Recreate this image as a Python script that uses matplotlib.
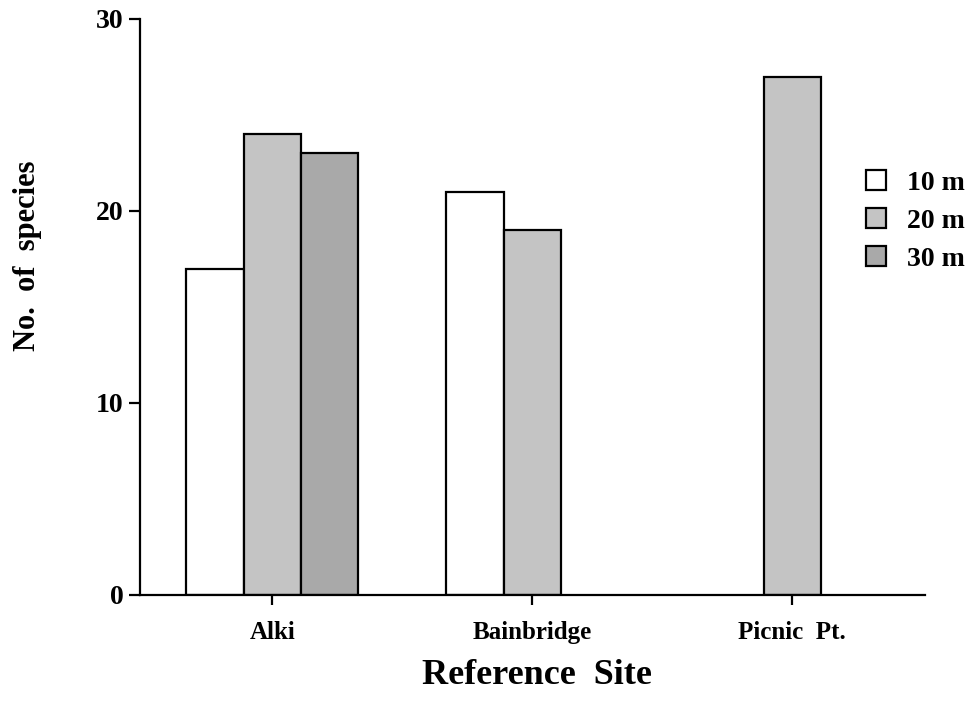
import matplotlib.pyplot as plt
import numpy as np

sites = ['Alki', 'Bainbridge', 'Picnic  Pt.']
depths = ['10 m', '20 m', '30 m']
d10 = [17, 21, np.nan]
d20 = [24, 19, 27]
d30 = [23, np.nan, np.nan]
yticks = [0, 10, 20, 30]

colores = ['white', '#c4c4c4', '#a9a9a9']

plt.rcParams['font.family'] = 'Liberation Serif'
plt.rcParams['font.weight'] = 'bold'

fig = plt.figure(figsize=(9.74, 7.13), dpi=100)
ax = fig.add_axes([140/974, 1-595/713, (925-140)/974, (595-19)/713])

index = np.arange(len(sites))
bw = 0.22
series = [d10, d20, d30]
for j, vals in enumerate(series):
    ax.bar(index + (j-1)*bw, vals, bw, color=colores[j], edgecolor='black',
           linewidth=1.6, label=depths[j], zorder=2)

ax.set_xlim(-0.508, 2.51)
ax.set_ylim(0, 30)
ax.set_yticks(yticks)
ax.set_xticks(index)
ax.set_xticklabels(sites)
ax.spines['top'].set_visible(False)
ax.spines['right'].set_visible(False)
ax.spines['left'].set_linewidth(1.6)
ax.spines['bottom'].set_linewidth(1.6)
ax.tick_params(axis='y', direction='out', length=8, width=1.6, pad=4, labelsize=20)
ax.tick_params(axis='x', direction='out', length=7, width=1.6, pad=12, labelsize=18)

fig.text(537/974, 1-676/713, 'Reference  Site', ha='center', va='center',
         fontsize=26, fontweight='bold')
fig.text(28/974, 1-256/713, 'No.  of  species', ha='center', va='center',
         rotation=90, fontsize=22, fontweight='bold')

leg = ax.legend(loc='upper left', bbox_to_anchor=(866/974, 1-170/713),
                bbox_transform=fig.transFigure, frameon=False, fontsize=20,
                handlelength=0.72, handleheight=0.72, handletextpad=0.75,
                labelspacing=0.45, borderpad=0, borderaxespad=0)
for h in leg.legend_handles:
    h.set_linewidth(1.6)

fig.savefig('out.png', dpi=100)
